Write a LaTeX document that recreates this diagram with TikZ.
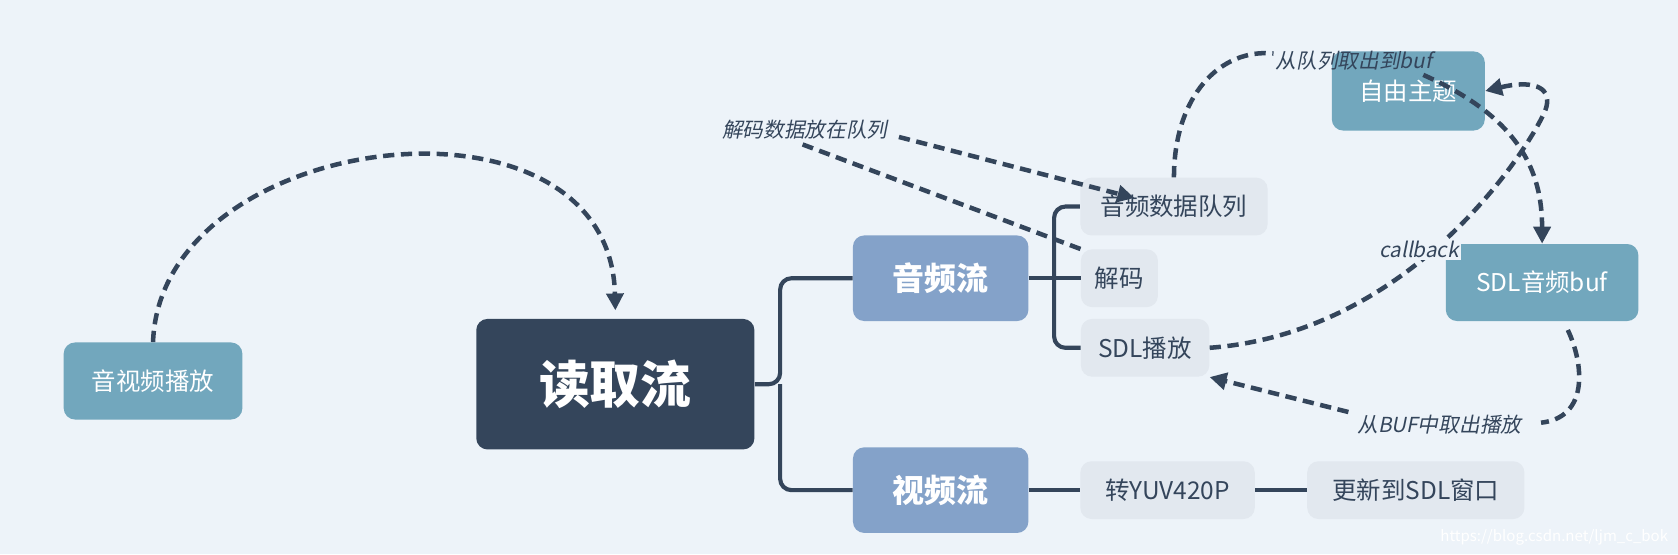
\documentclass[tikz,border=0pt]{standalone}
\usepackage{fontspec}
\setmainfont{Noto Sans CJK SC}
\newfontfamily\cjkit[FakeSlant=0.2]{Noto Sans CJK SC}
\usetikzlibrary{arrows.meta, positioning, calc}
\definecolor{bgc}{HTML}{EDF3F9}
\definecolor{darkc}{HTML}{34455B}
\definecolor{tealc}{HTML}{72A7BD}
\definecolor{bluec}{HTML}{84A2C9}
\definecolor{lightc}{HTML}{E2E8EF}

\begin{document}
\begin{tikzpicture}[x=0.02cm, y=-0.02cm,
    topic/.style={rectangle, rounded corners=6pt, fill=tealc, text=white, font=\fontsize{13}{15}\selectfont, inner sep=0pt},
    branch/.style={rectangle, rounded corners=6pt, fill=bluec, text=white, font=\bfseries\fontsize{17}{19}\selectfont, minimum width=3.28cm, minimum height=1.6cm},
    leaf/.style={rectangle, rounded corners=6pt, fill=lightc, text=darkc, font=\fontsize{13}{15}\selectfont, minimum height=1.08cm, inner sep=4pt},
    tree/.style={darkc, line width=2.2pt, rounded corners=6pt},
    rel/.style={darkc, line width=2.4pt, dash pattern=on 6pt off 3.5pt},
    tip/.style={-{Triangle[length=9pt, width=9pt]}},
    lbl/.style={text=darkc, font=\cjkit\fontsize{11}{13}\selectfont}
]
    \fill[bgc] (0,0) rectangle (1568,518);
    \useasboundingbox (0,0) rectangle (1568,518);

    \node[topic, minimum width=3.34cm, minimum height=1.44cm] (play) at (143,356) {音视频播放};
    \node[rectangle, rounded corners=6pt, fill=darkc, text=white, font=\bfseries\fontsize{27}{30}\selectfont,
          minimum width=5.2cm, minimum height=2.44cm] (read) at (575,359) {读取流};
    \node[branch] (audio) at (879,260) {音频流};
    \node[branch] (video) at (879,458) {视频流};
    \node[leaf, minimum width=3.5cm] (queue) at (1097,193) {音频数据队列};
    \node[leaf, minimum width=1.44cm] (decode) at (1046,260) {解码};
    \node[leaf, minimum width=2.4cm] (sdlplay) at (1070,325) {SDL播放};
    \node[leaf, minimum width=3.26cm] (yuv) at (1091,458) {转YUV420P};
    \node[leaf, minimum width=4.06cm] (window) at (1323,458) {更新到SDL窗口};
    \node[topic, minimum width=2.86cm, minimum height=1.48cm] (free) at (1316,85) {自由主题};
    \node[topic, minimum width=3.6cm, minimum height=1.44cm] (sdlbuf) at (1441,264) {SDL音频buf};

    % tree lines
    \draw[tree] (read.east) -- (729,359) |- (audio.west);
    \draw[tree] (729,359) |- (video.west);
    \draw[tree] (audio.east) -- (decode.west);
    \draw[tree] (985,260) |- (queue.west);
    \draw[tree] (985,260) |- (sdlplay.west);
    \draw[tree] (video.east) -- (yuv.west);
    \draw[tree] (yuv.east) -- (window.west);

    % relations
    \coordinate (decfrom) at (750,135);
    \coordinate (decto) at (840,128);
    \coordinate (qlbl) at (1330,70);
    \coordinate (blbl) at (1360,390);
    \draw[rel, tip] (play.north) .. controls (150,120) and (570,70) .. (575,290);
    \draw[rel] (decode.north west) -- (decfrom);
    \draw[rel, tip] (decto) -- (1060,185);
    \node[lbl] at (752,121) {解码数据放在队列};
    \draw[rel] (queue.north) .. controls (1097,90) and (1140,45) .. (1190,50);
    \draw[rel, tip] (qlbl) .. controls (1420,110) and (1441,160) .. (sdlbuf.north);
    \node[lbl] at (1265,57) {从队列取出到buf};
    \draw[rel, tip] (sdlplay.east) .. controls (1330,310) and (1440,120) .. (1445,100)
        .. controls (1450,80) and (1430,75) .. (free.east);
    \node[lbl, fill=bgc, inner sep=1pt] at (1326,233) {callback};
    \draw[rel] (sdlbuf.south) ++(24,8) .. controls (1480,340) and (1485,390) .. (1440,395);
    \draw[rel, tip] (1260,385) -- (sdlplay.south east);
    \node[lbl] at (1345,397) {从BUF中取出播放};

    \node[text=white, font=\fontsize{8}{9}\selectfont, anchor=south east] at (1565,516) {https://blog.csdn.net/ljm\_c\_bok};
\end{tikzpicture}
\end{document}
